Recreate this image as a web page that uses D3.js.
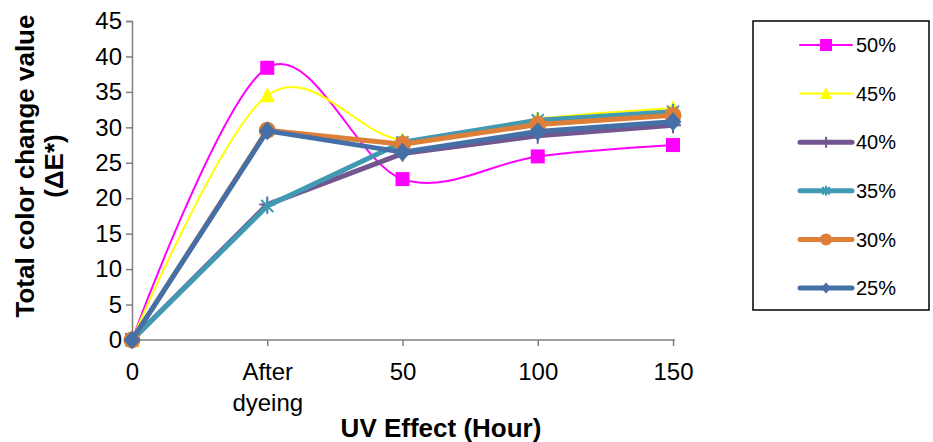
<!DOCTYPE html>
<html>
<head>
<meta charset="utf-8">
<script src="https://cdn.jsdelivr.net/npm/d3@7"></script>
<style>
  body { margin: 0; background: #fff; }
  text { font-family: "Liberation Sans", Arial, sans-serif; fill: #000; }
</style>
</head>
<body>
<div id="chart"></div>
<script>
// data
var categories = ["0", "After dyeing", "50", "100", "150"];
var seriesNames = ["50%", "45%", "40%", "35%", "30%", "25%"];
var s50 = [0, 38.4, 22.7, 25.9, 27.5];
var s45 = [0, 34.5, 28.2, 31.2, 32.7];
var s40 = [0, 19.1, 26.3, 28.8, 30.3];
var s35 = [0, 18.9, 27.9, 31.0, 32.2];
var s30 = [0, 29.6, 27.6, 30.4, 31.7];
var s25 = [0, 29.5, 26.5, 29.4, 30.8];
var yTicks = [0, 5, 10, 15, 20, 25, 30, 35, 40, 45];

var seriesValues = [s50, s45, s40, s35, s30, s25];

// how each series is drawn
var styles = [
  { color: "#ff00ff", width: 2, smooth: true,  marker: "square" },
  { color: "#ffff00", width: 2, smooth: true,  marker: "triangle" },
  { color: "#71568f", width: 5, smooth: false, marker: "plus" },
  { color: "#4299b2", width: 5, smooth: false, marker: "asterisk" },
  { color: "#dd7f38", width: 5, smooth: false, marker: "circle" },
  { color: "#4470a7", width: 5, smooth: false, marker: "diamond" }
];

var svgWidth = 933;
var svgHeight = 442;

var svg = d3.select("#chart")
  .append("svg")
  .attr("width", svgWidth)
  .attr("height", svgHeight);

var x = d3.scalePoint()
  .domain(categories)
  .range([132, 673]);

var y = d3.scaleLinear()
  .domain([0, 45])
  .range([340, 21]);

// axes
var leftAxis = d3.axisLeft(y).tickValues(yTicks).tickSize(6).tickPadding(4);
var bottomAxis = d3.axisBottom(x).tickSize(6);

var gy = svg.append("g")
  .attr("transform", "translate(132,0)")
  .call(leftAxis);

var gx = svg.append("g")
  .attr("transform", "translate(0,340)")
  .call(bottomAxis);

gx.select(".domain").attr("d", "M132,0H675");
gx.selectAll(".tick").filter(d => d === "0").select("line").remove();

[gx, gy].forEach(function(g) {
  g.attr("font-size", 24).attr("font-family", "Liberation Sans, Arial, sans-serif");
  g.select(".domain").attr("stroke", "#808080").attr("stroke-width", 1.5);
  g.selectAll(".tick line").attr("stroke", "#808080").attr("stroke-width", 1.5);
  g.selectAll(".tick text").attr("fill", "#000");
});

// category labels, second word on its own line
gx.selectAll(".tick text").each(function(d) {
  var t = d3.select(this).text(null).attr("dy", null).attr("y", null);
  d.split(" ").forEach(function(p, i) {
    t.append("tspan").attr("x", 0).attr("y", 40 + i * 31).text(p);
  });
});

// markers
function markerPath(type, s) {
  var h = s / 2;
  if (type === "square") return "M" + (-h) + "," + (-h) + "h" + s + "v" + s + "h" + (-s) + "Z";
  if (type === "triangle") return "M0," + (-h * 1.1) + "L" + h + "," + h * 0.9 + "L" + (-h) + "," + h * 0.9 + "Z";
  if (type === "diamond") return "M0," + (-h * 1.1) + "L" + h + ",0L0," + h * 1.1 + "L" + (-h) + ",0Z";
  if (type === "plus") return "M0," + (-h) + "V" + h + "M" + (-h) + ",0H" + h;
  if (type === "asterisk") {
    var k = h * 0.75;
    return "M" + (-k) + "," + (-k) + "L" + k + "," + k + "M" + (-k) + "," + k + "L" + k + "," + (-k) + "M0," + (-h) + "V" + h;
  }
  return null;
}

function drawMarker(g, type, color, cx, cy, s) {
  if (type === "circle") {
    g.append("circle").attr("cx", cx).attr("cy", cy).attr("r", s / 2).attr("fill", color);
    return;
  }
  var p = g.append("path")
    .attr("d", markerPath(type, s))
    .attr("transform", "translate(" + cx + "," + cy + ")");
  if (type === "plus" || type === "asterisk") {
    p.attr("fill", "none").attr("stroke", color).attr("stroke-width", 2);
  } else {
    p.attr("fill", color);
  }
}

var markerSize = { square: 14, triangle: 15, plus: 16, asterisk: 16, circle: 17, diamond: 17 };

var plot = svg.append("g");

seriesValues.forEach(function(vals, i) {
  var st = styles[i];
  var line = d3.line()
    .x((d, j) => x(categories[j]))
    .y(d => y(d))
    .curve(st.smooth ? d3.curveCardinal.tension(0) : d3.curveLinear);

  var g = plot.append("g");
  g.append("path")
    .datum(vals)
    .attr("d", line)
    .attr("fill", "none")
    .attr("stroke", st.color)
    .attr("stroke-width", st.width)
    .attr("stroke-linejoin", "round")
    .attr("stroke-linecap", "round");

  vals.forEach(function(v, j) {
    drawMarker(g, st.marker, st.color, x(categories[j]), y(v), markerSize[st.marker]);
  });
});

// axis titles
svg.append("text")
  .attr("x", 441)
  .attr("y", 437)
  .attr("text-anchor", "middle")
  .attr("font-size", 26)
  .attr("font-weight", "bold")
  .text("UV Effect (Hour)");

var yTitle = svg.append("text")
  .attr("transform", "translate(34,166) rotate(-90)")
  .attr("text-anchor", "middle")
  .attr("font-size", 26)
  .attr("font-weight", "bold");
yTitle.append("tspan").attr("x", 0).attr("y", 0).text("Total color change value");
yTitle.append("tspan").attr("x", 0).attr("y", 29).text("(\u0394E*)");

// legend
var legend = svg.append("g");
legend.append("rect")
  .attr("x", 753)
  .attr("y", 21)
  .attr("width", 176)
  .attr("height", 289)
  .attr("fill", "#fff")
  .attr("stroke", "#000")
  .attr("stroke-width", 1.5);

seriesNames.forEach(function(name, i) {
  var st = styles[i];
  var cy = 45 + i * 48.6;
  var item = legend.append("g");
  item.append("line")
    .attr("x1", 800).attr("x2", 852)
    .attr("y1", cy).attr("y2", cy)
    .attr("stroke", st.color)
    .attr("stroke-width", st.width)
    .attr("stroke-linecap", "round");
  var ms = { square: 12, triangle: 12, plus: 11, asterisk: 10, circle: 12, diamond: 10 }[st.marker];
  drawMarker(item, st.marker, st.color, 826, cy, ms);
  item.append("text")
    .attr("x", 856)
    .attr("y", cy)
    .attr("dy", "0.36em")
    .attr("font-size", 20)
    .text(name);
});
</script>
</body>
</html>
